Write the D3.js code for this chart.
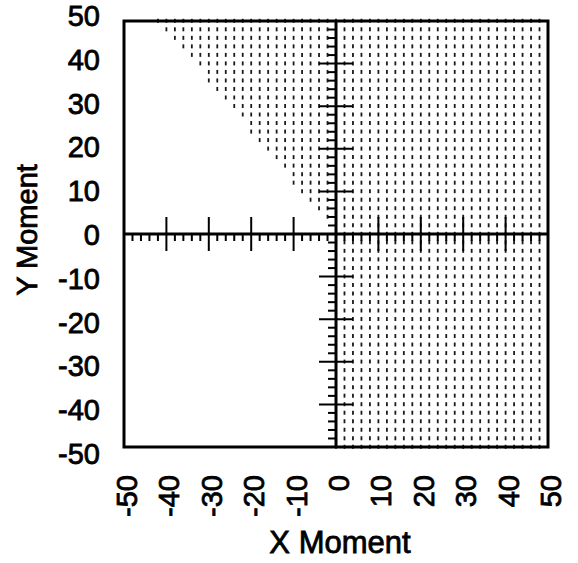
<!DOCTYPE html>
<html>
<head>
<meta charset="utf-8">
<script src="https://cdn.jsdelivr.net/npm/d3@7"></script>
<style>
  body { margin: 0; background: #fff; }
  text { font-family: "Liberation Sans", Arial, Helvetica, sans-serif; fill: #000; stroke: #000; stroke-width: 0.8px; }
</style>
</head>
<body>
<svg id="chart"></svg>
<script>
// axis extents and labels
var xDomain = [-50, 50];
var yDomain = [-50, 50];
var xTickValues = [-50, -40, -30, -20, -10, 0, 10, 20, 30, 40, 50];
var yTickValues = [-50, -40, -30, -20, -10, 0, 10, 20, 30, 40, 50];
var majorTicks = [-40, -30, -20, -10, 10, 20, 30, 40];
var minorTicks = [-48, -46, -44, -42, -38, -36, -34, -32, -28, -26, -24, -22,
                  -18, -16, -14, -12, -8, -6, -4, -2, 2, 4, 6, 8, 12, 14, 16, 18,
                  22, 24, 26, 28, 32, 34, 36, 38, 42, 44, 46, 48];

// hatched region: grid of dashes every 2 units, left edge runs (-42,50) -> (0,0)
var hatchX = [-50, -48, -46, -44, -42, -40, -38, -36, -34, -32, -30, -28, -26, -24, -22, -20,
              -18, -16, -14, -12, -10, -8, -6, -4, -2, 0, 2, 4, 6, 8, 10, 12, 14, 16, 18, 20,
              22, 24, 26, 28, 30, 32, 34, 36, 38, 40, 42, 44, 46, 48];
var hatchY = hatchX.concat([50]);
var edgeX = [-42, 0];
var edgeY = [50, 0];

var width = 578, height = 563;

var svg = d3.select("#chart")
    .attr("width", width)
    .attr("height", height);

var x = d3.scaleLinear().domain(xDomain).range([124, 548]);
var y = d3.scaleLinear().domain(yDomain).range([447, 21]);
var yLabel = d3.scaleLinear().domain(yDomain).range([454, 16]);
var edge = d3.scaleLinear().domain(edgeX).range(edgeY);

// hatch dashes
var points = [];
hatchX.forEach(function(hx) {
  hatchY.forEach(function(hy) {
    if (hx >= 0 || hy >= edge(hx) - 1e-9) points.push([hx, hy]);
  });
});

svg.append("g")
    .attr("stroke", "#1a1a1a")
    .attr("stroke-width", 1.8)
  .selectAll("line")
  .data(points)
  .enter()
  .append("line")
    .attr("x1", d => x(d[0]))
    .attr("x2", d => x(d[0]))
    .attr("y1", d => y(d[1]) - 2.2)
    .attr("y2", d => y(d[1]) + 1.8);

// frame
svg.append("rect")
    .attr("x", x(xDomain[0]))
    .attr("y", y(yDomain[1]))
    .attr("width", x(xDomain[1]) - x(xDomain[0]))
    .attr("height", y(yDomain[0]) - y(yDomain[1]))
    .attr("fill", "none")
    .attr("stroke", "#000")
    .attr("stroke-width", 3);

// zero axes
svg.append("line")
    .attr("x1", x(xDomain[0])).attr("x2", x(xDomain[1]))
    .attr("y1", y(0)).attr("y2", y(0))
    .attr("stroke", "#000").attr("stroke-width", 3);

svg.append("line")
    .attr("x1", x(0)).attr("x2", x(0))
    .attr("y1", y(yDomain[0])).attr("y2", y(yDomain[1]))
    .attr("stroke", "#000").attr("stroke-width", 3);

var ticks = svg.append("g")
    .attr("stroke", "#000")
    .attr("stroke-width", 2);

// minor ticks: below the x axis, left of the y axis
ticks.selectAll(".xminor")
  .data(minorTicks)
  .enter()
  .append("line")
    .attr("x1", d => x(d)).attr("x2", d => x(d))
    .attr("y1", y(0)).attr("y2", y(0) + 7);

ticks.selectAll(".yminor")
  .data(minorTicks)
  .enter()
  .append("line")
    .attr("y1", d => y(d)).attr("y2", d => y(d))
    .attr("x1", x(0) - 8).attr("x2", x(0));

// major ticks cross the axes
ticks.selectAll(".xmajor")
  .data(majorTicks)
  .enter()
  .append("line")
    .attr("x1", d => x(d)).attr("x2", d => x(d))
    .attr("y1", y(0) - 17).attr("y2", y(0) + 17);

ticks.selectAll(".ymajor")
  .data(majorTicks)
  .enter()
  .append("line")
    .attr("y1", d => y(d)).attr("y2", d => y(d))
    .attr("x1", x(0) - 17).attr("x2", x(0) + 17);

// tick labels
svg.append("g")
  .selectAll("text")
  .data(yTickValues)
  .enter()
  .append("text")
    .attr("x", 100)
    .attr("y", d => yLabel(d))
    .attr("font-size", 29)
    .attr("text-anchor", "end")
    .attr("dominant-baseline", "central")
    .text(d => d);

svg.append("g")
  .selectAll("text")
  .data(xTickValues)
  .enter()
  .append("text")
    .attr("transform", d => "translate(" + (x(d) + 3) + ",475) rotate(-90)")
    .attr("font-size", 29)
    .attr("text-anchor", "end")
    .attr("dominant-baseline", "central")
    .text(d => d);

// axis titles
svg.append("text")
    .attr("x", 340)
    .attr("y", 553)
    .attr("font-size", 31)
    .attr("text-anchor", "middle")
    .text("X Moment");

svg.append("text")
    .attr("transform", "translate(37,230) rotate(-90)")
    .attr("font-size", 29)
    .attr("text-anchor", "middle")
    .text("Y Moment");
</script>
</body>
</html>
